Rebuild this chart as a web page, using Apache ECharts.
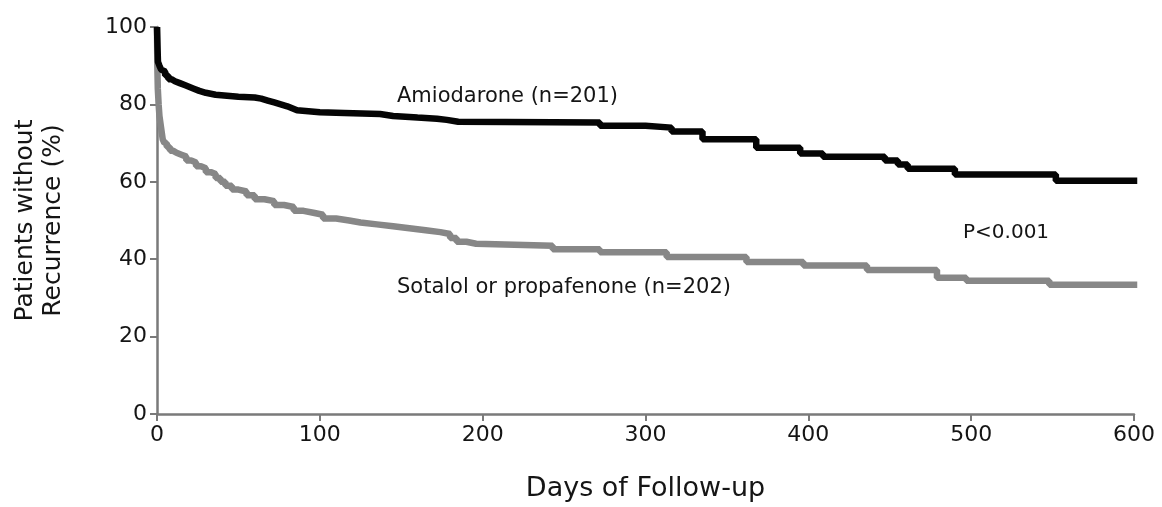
<!DOCTYPE html>
<html>
<head>
<meta charset="utf-8">
<script src="https://cdn.jsdelivr.net/npm/echarts@6/dist/echarts.min.js"></script>
<style>html,body{margin:0;padding:0;background:#fff}#c{width:1162px;height:507px}</style>
</head>
<body>
<div id="c"></div>
<script>
// Kaplan-Meier step data: [day, % without recurrence]
const amiodarone = [[0,100],[0.3,95],[0.6,91],[1.5,90],[2.5,89],[3.5,88.5],[5,87.5],[7,86.5],[9,86],[11,85.5],[14,85],[17,84.5],[20,84],[23,83.5],[26,83],[30,82.5],[36,82],[50,81.8],[60,81.5],[64,81],[68,80.5],[72,80],[76,79.5],[80,79],[83,78.5],[86,78],[100,77.8],[115,77.5],[137,77],[145,76.6],[160,76.3],[172,76],[178,75.5],[185,75.3],[272,74.5],[300,74],[316,73],[335,71],[368,68.8],[395,67.3],[409,66.5],[447,65.5],[455,64.5],[461,63.4],[490,61.9],[552,60.3],[602,60.3]];
const sotalol = [[0,100],[0.2,90],[0.5,84],[1,80],[1.5,77],[2.5,74],[3.5,71],[4.5,70],[6,69],[8,68],[10,67.5],[12,67],[15,66.5],[18,65.5],[21,65],[24,64],[27,63.5],[30,62.5],[33,62],[36,61],[39,60],[42,59],[46,58],[50,57.5],[55,56.5],[60,55.5],[66,55],[72,54],[78,53.5],[84,52.5],[90,52],[96,51.5],[102,50.5],[110,50],[118,49.5],[125,49],[135,48.5],[145,48],[155,47.5],[165,47],[174,46.5],[180,45.5],[184,44.5],[190,44],[196,43.5],[243,42.6],[272,41.8],[313,40.6],[362,39.3],[397,38.4],[436,37.2],[479,35.2],[497,34.4],[548,33.4],[602,33.4]];
const xTicks = [0,100,200,300,400,500,600];
const yTicks = [0,20,40,60,80,100];
const labels = {
  amio: 'Amiodarone (n=201)',
  sota: 'Sotalol or propafenone (n=202)',
  p: 'P<0.001',
  xName: 'Days of Follow-up',
  yName: 'Patients without\nRecurrence (%)'
};

const FONT = 'DejaVu Sans';
const chart = echarts.init(document.getElementById('c'), null, {renderer:'canvas'});
const axisCol = '#7a7a7a';
const txtCol = '#151515';
chart.setOption({
  animation: false,
  backgroundColor: '#fff',
  grid: {left:157, right:28, top:27, bottom:91, containLabel:false},
  xAxis: {
    type:'value', min:xTicks[0], max:xTicks[xTicks.length-1], interval:100,
    name: labels.xName, nameLocation:'middle', nameGap:61,
    nameTextStyle:{fontFamily:FONT, fontSize:27, color:txtCol},
    axisLine:{show:true, onZero:false, lineStyle:{color:axisCol, width:2.5}},
    axisTick:{show:true, length:7, lineStyle:{color:axisCol, width:2}},
    axisLabel:{fontFamily:FONT, fontSize:22, color:txtCol, margin:10},
    splitLine:{show:false}
  },
  yAxis: {
    type:'value', min:yTicks[0], max:yTicks[yTicks.length-1], interval:20,
    name: labels.yName, nameLocation:'middle', nameGap:90,
    nameTextStyle:{fontFamily:FONT, fontSize:25, color:txtCol, lineHeight:28},
    axisLine:{show:true, onZero:false, lineStyle:{color:axisCol, width:2.5}},
    axisTick:{show:true, length:7, lineStyle:{color:axisCol, width:2}},
    axisLabel:{fontFamily:FONT, fontSize:22, color:txtCol, margin:10},
    splitLine:{show:false}
  },
  series: [
    {type:'line', name:'Sotalol or propafenone', data:sotalol, step:'end', showSymbol:false,
     lineStyle:{color:'#878787', width:6.5}, z:2},
    {type:'line', name:'Amiodarone', data:amiodarone, step:'end', showSymbol:false,
     lineStyle:{color:'#050505', width:6.5}, z:3}
  ],
  graphic: [
    {type:'text', left:397, top:86, style:{text:labels.amio, font:'21px "DejaVu Sans"', fill:txtCol}},
    {type:'text', left:397, top:277, style:{text:labels.sota, font:'21px "DejaVu Sans"', fill:txtCol}},
    {type:'text', left:963, top:223, style:{text:labels.p, font:'20px "DejaVu Sans"', fill:txtCol}}
  ]
});
</script>
</body>
</html>
